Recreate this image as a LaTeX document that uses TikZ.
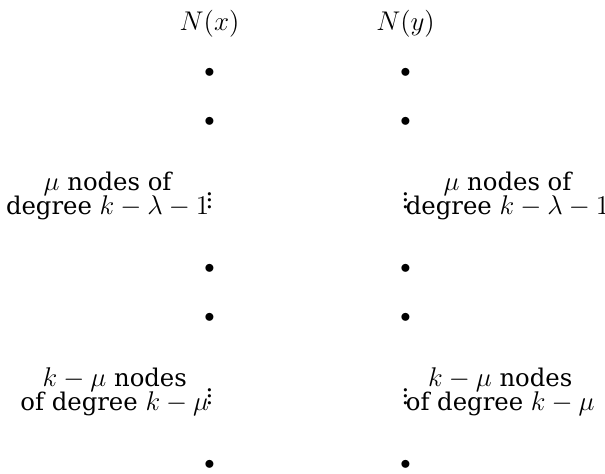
\RequirePackage{fix-cm}
\documentclass[tikz,border=0pt,12pt]{standalone}
\usepackage{amsmath}
\usepackage{fontspec}
\setmainfont{DejaVu Serif}[Scale=0.9]
\usepackage{tikz}
\usetikzlibrary{positioning}

\begin{document}
\begin{tikzpicture}[txt/.style={font=\fontsize{15.7}{14}\selectfont, align=center, inner sep=0pt}]
\useasboundingbox (-4.276,1.49) rectangle (8.071,-8.163);
\node[txt] (Nx) at (0, 1) {$N(x)$};
\node[txt] (Ny) at (4, 1) {$N(y)$};
\node (x1) at (0, 0) {$\bullet$};
\node (x2) at (0, -1) {$\bullet$};
\node[txt] (xd1) at (0, -2.5) {$\vdots$};
\node (x3) at (0, -4) {$\bullet$};
\node (x4) at (0, -5) {$\bullet$};
\node[txt] (xd2) at (0, -6.5) {$\vdots$};
\node (x5) at (0, -8) {$\bullet$};
\node (y1) at (4, 0) {$\bullet$};
\node (y2) at (4, -1) {$\bullet$};
\node[txt] (yd1) at (4, -2.5) {$\vdots$};
\node (y3) at (4, -4) {$\bullet$};
\node (y4) at (4, -5) {$\bullet$};
\node[txt] (yd2) at (4, -6.5) {$\vdots$};
\node (y5) at (4, -8) {$\bullet$};
\node[txt, left] (xa) at (0, -2.5) {$\mu$ nodes of\\degree $k-\lambda-1$};
\node[txt, left] (xb) at (0, -6.5) {$k-\mu$ nodes\\of degree $k-\mu$};
\node[txt, right] (ya) at (4, -2.5) {$\mu$ nodes of\\degree $k-\lambda-1$};
\node[txt, right] (yb) at (4, -6.5) {$k-\mu$ nodes\\of degree $k-\mu$};
\end{tikzpicture}
\end{document}
